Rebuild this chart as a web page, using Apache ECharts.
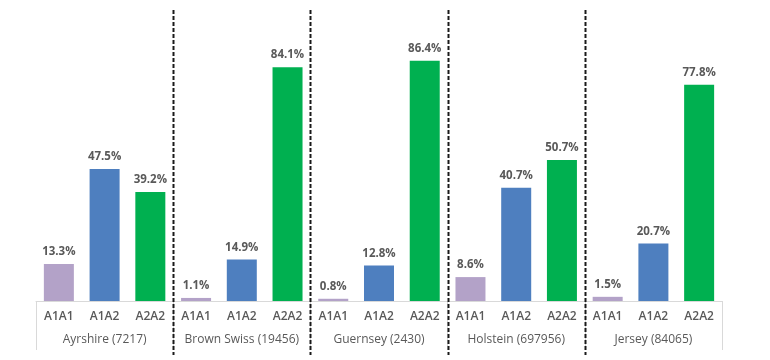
<!DOCTYPE html>
<html><head><meta charset="utf-8">
<script src="https://cdn.jsdelivr.net/npm/echarts@6/dist/echarts.min.js"></script>
<style>html,body{margin:0;padding:0;background:#fff}#c{width:770px;height:360px}</style>
</head><body><div id="c"></div>
<script>
const genotypes = ['A1A1','A1A2','A2A2'];
const breeds = ['Ayrshire (7217)','Brown Swiss (19456)','Guernsey (2430)','Holstein (697956)','Jersey (84065)'];
const ayrshire = [13.3, 47.5, 39.2];
const brownSwiss = [1.1, 14.9, 84.1];
const guernsey = [0.8, 12.8, 86.4];
const holstein = [8.6, 40.7, 50.7];
const jersey = [1.5, 20.7, 77.8];
const genotypeColors = ['#b3a2c8', '#4e7fbf', '#00b050'];

const groups = [ayrshire, brownSwiss, guernsey, holstein, jersey];
const cats = [], data = [];
groups.forEach((g, gi) => g.forEach((v, i) => {
  cats.push(genotypes[i]);
  data.push({ value: v, itemStyle: { color: genotypeColors[i] } });
}));
// index of last category of each group except the last one
const boundaries = [];
for (let b = 1; b < breeds.length; b++) boundaries.push([b * genotypes.length - 1, 0]);

const chart = echarts.init(document.getElementById('c'));
const font = '"Open Sans", "DejaVu Sans", sans-serif';
chart.setOption({
  backgroundColor: '#fff',
  animation: false,
  grid: { left: 36, right: 48, top: 23, bottom: 59 },
  xAxis: [{
    type: 'category', data: cats, position: 'bottom',
    axisLine: { show: true, lineStyle: { color: '#d9d9d9', width: 1 } },
    axisTick: { show: false },
    axisLabel: { color: '#595959', fontSize: 12, fontWeight: 600, fontFamily: font, margin: 10, interval: 0 }
  }, {
    type: 'category', data: breeds, position: 'bottom',
    axisLine: { show: false },
    axisTick: { show: true, length: 49, interval: 0, lineStyle: { color: '#d9d9d9' } },
    axisLabel: { color: '#595959', fontSize: 12, fontWeight: 'normal', fontFamily: font, margin: 33, interval: 0 }
  }],
  yAxis: { type: 'value', min: 0, max: 100, show: false, splitLine: { show: false } },
  series: [{
    type: 'bar', data: data, barWidth: 30,
    label: { show: true, position: 'top', distance: 6, color: '#595959', fontSize: 11.5, fontWeight: 'bold', fontFamily: font,
      formatter: p => p.value.toFixed(1) + '%' }
  }, {
    type: 'custom', clip: false, silent: true, xAxisIndex: 0,
    data: boundaries,
    renderItem: (params, api) => {
      const band = api.size([1, 0])[0];
      const x = api.coord([api.value(0), 0])[0] + band / 2;
      const cs = params.coordSys;
      return { type: 'line', shape: { x1: Math.round(x) + 0.5, y1: cs.y - 13, x2: Math.round(x) + 0.5, y2: cs.y + cs.height + 54 },
        style: { stroke: '#1a1a1a', lineWidth: 2, lineDash: [4, 2] } };
    },
    encode: { x: 0, y: 1 }
  }]
});
</script></body></html>
